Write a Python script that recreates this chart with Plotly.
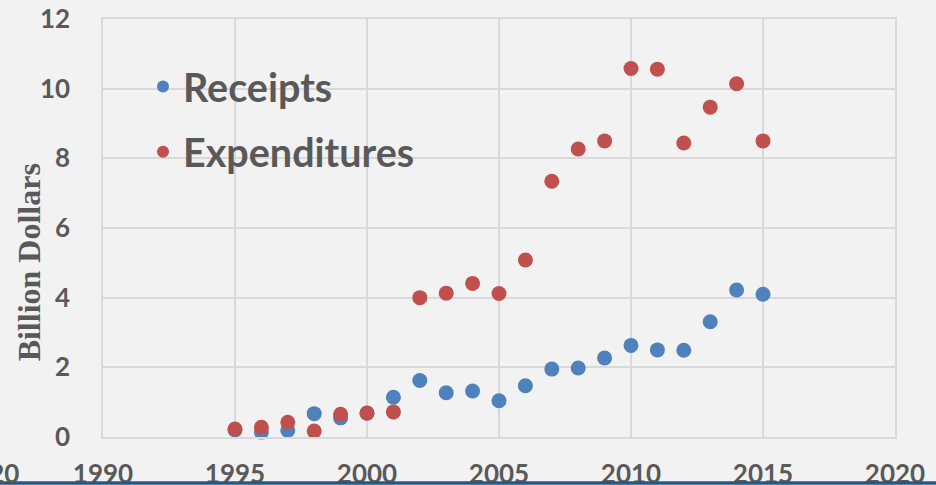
import plotly.graph_objects as go

years = list(range(1995, 2016))
receipts = [0.20, 0.14, 0.19, 0.67, 0.55, 0.68, 1.14, 1.62, 1.27, 1.32, 1.04,
            1.47, 1.95, 1.98, 2.27, 2.63, 2.50, 2.49, 3.31, 4.22, 4.10]
expenditures = [0.23, 0.28, 0.42, 0.17, 0.65, 0.69, 0.72, 4.00, 4.13, 4.41, 4.12,
                5.08, 7.34, 8.27, 8.50, 10.58, 10.56, 8.44, 9.47, 10.14, 8.50]
x_ticks = [1990, 1995, 2000, 2005, 2010, 2015, 2020]
y_ticks = [0, 2, 4, 6, 8, 10, 12]

TXT = "#595959"
GRID = "#d9d9d9"
BG = "#f2f2f2"

fig = go.Figure()
fig.add_trace(go.Scatter(x=years, y=receipts, mode="markers", name="Receipts",
                         legendgroup="r",
                         marker=dict(color="#4f81bd", size=15), cliponaxis=False))
fig.add_trace(go.Scatter(x=years, y=expenditures, mode="markers", name="Expenditures",
                         legendgroup="e",
                         marker=dict(color="#c0504d", size=15), cliponaxis=False))

fig.update_layout(
    width=936, height=485,
    margin=dict(l=103, r=41, t=18.7, b=47.5, pad=0),
    paper_bgcolor=BG, plot_bgcolor=BG,
    font=dict(family="Lato", color=TXT),
    showlegend=True,
    legend=dict(x=0.0505, y=0.9157, xanchor="left", yanchor="top",
                bgcolor="rgba(0,0,0,0)",
                font=dict(family="Lato", size=39.5, color=TXT, weight="bold"),
                tracegroupgap=11, itemsizing="constant"),
    xaxis=dict(range=[1990, 2020], tickvals=x_ticks, showgrid=True,
               gridcolor=GRID, gridwidth=1.5, zeroline=False, automargin=False,
               showline=True, mirror=True, linecolor=GRID, linewidth=1.5,
               ticks="", ticklabelstandoff=13, ticklabeloverflow="allow",
               tickfont=dict(family="Lato", size=26, color=TXT, weight="bold")),
    yaxis=dict(range=[0, 12], tickvals=y_ticks, showgrid=True,
               gridcolor=GRID, gridwidth=1.5, zeroline=False, automargin=False,
               showline=True, mirror=True, linecolor=GRID, linewidth=1.5,
               ticks="", ticklabelstandoff=26, ticklabeloverflow="allow",
               tickfont=dict(family="Lato", size=26, color=TXT, weight="bold")),
    annotations=[
        dict(text="Billion Dollars", textangle=-90, xref="paper", yref="paper",
             x=-0.094, y=0.4167, xanchor="center", yanchor="middle", showarrow=False,
             font=dict(family="Liberation Serif", size=32, color=TXT, weight="bold")),
        dict(text="2020", xref="paper", yref="paper", x=-0.1035, y=-0.0872,
             xanchor="right", yanchor="middle", showarrow=False,
             font=dict(family="Lato", size=26, color=TXT, weight="bold")),
    ],
    shapes=[dict(type="line", xref="paper", yref="paper", x0=-0.3, x1=1.3,
                 y0=-0.1098, y1=-0.1098, line=dict(color="#1d5c8a", width=3.5))],
)

fig.write_html("out.html", config={"displayModeBar": False},
               post_script="document.body.style.margin='0';")
